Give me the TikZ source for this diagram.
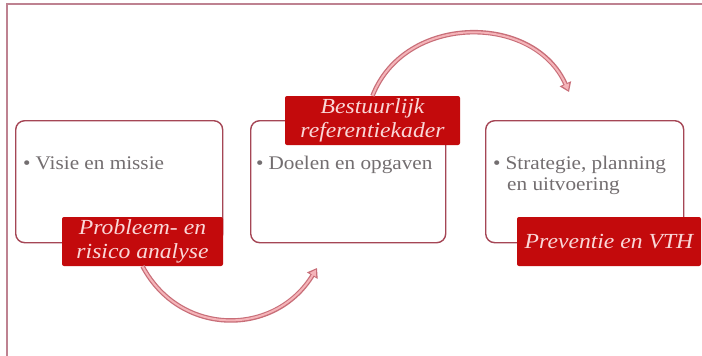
\documentclass[tikz,border=0pt]{standalone}
\usepackage{fontspec}
\setmainfont{Liberation Serif}[FakeStretch=1.1]
\usetikzlibrary{arrows.meta}
\definecolor{framecol}{RGB}{190,130,145}
\definecolor{boxcol}{RGB}{165,70,85}
\definecolor{labfill}{RGB}{195,10,12}
\definecolor{labtext}{RGB}{250,215,215}
\definecolor{bodytext}{RGB}{115,110,112}
\definecolor{arrdark}{RGB}{200,110,120}
\definecolor{arrlight}{RGB}{245,180,185}
\tikzset{
  stagebox/.style={draw=boxcol, line width=1.4pt, rounded corners=9pt, fill=white},
  labelbox/.style={fill=labfill, rounded corners=2pt, text=labtext, align=center,
     font=\fontsize{21.5}{24}\selectfont\itshape, inner sep=0pt},
  bodytxt/.style={text=bodytext, font=\fontsize{19.3}{21}\selectfont, inner sep=0pt, anchor=base west},
  arrouter/.style={draw=arrdark, line width=4.5pt, -{Triangle[length=9pt,width=12pt]}},
  arrinner/.style={draw=arrlight, line width=2pt, shorten >=2pt, -{Triangle[length=6pt,width=7pt]}}
}
\begin{document}
\begin{tikzpicture}[x=1pt,y=-1pt]
\useasboundingbox (0,0) rectangle (702,356);
\fill[white] (0,0) rectangle (702,356);
% frame
\draw[framecol, line width=2pt] (7,356) -- (7,3.5) -- (702,3.5);
% stage boxes
\node[stagebox, minimum width=207pt, minimum height=122pt, anchor=north west] (b1) at (15,120) {};
\node[stagebox, minimum width=195pt, minimum height=122pt, anchor=north west] (b2) at (250,120) {};
\node[stagebox, minimum width=198pt, minimum height=122pt, anchor=north west] (b3) at (485,120) {};
% body texts
\node[bodytxt] (t1) at (23,169) {\textbullet\hspace{5pt}Visie en missie};
\node[bodytxt] (t2) at (256,169) {\textbullet\hspace{5pt}Doelen en opgaven};
\node[bodytxt] (t3) at (493,169) {\textbullet\hspace{5pt}Strategie, planning};
\node[bodytxt] (t3b) at (507,190) {en uitvoering};
% labels
\node[labelbox, minimum width=161pt, minimum height=49pt] (l1) at (142.5,241.5) {Probleem- en\\risico analyse};
\node[labelbox, minimum width=175pt, minimum height=49pt] (l2) at (372.5,120.5) {Bestuurlijk\\referentiekader};
\node[labelbox, minimum width=184pt, minimum height=49pt] (l3) at (609,241.5) {Preventie en VTH};
% arrows
\coordinate (e1) at (317,268);
\coordinate (e2) at (569,92);
\draw[arrouter] (l1.south) .. controls (180,337) and (275,337) .. (e1);
\draw[arrinner] (l1.south) .. controls (180,337) and (275,337) .. (e1);
\draw[arrouter] (l2.north) .. controls (405,13) and (534,13) .. (e2);
\draw[arrinner] (l2.north) .. controls (405,13) and (534,13) .. (e2);
\end{tikzpicture}
\end{document}
